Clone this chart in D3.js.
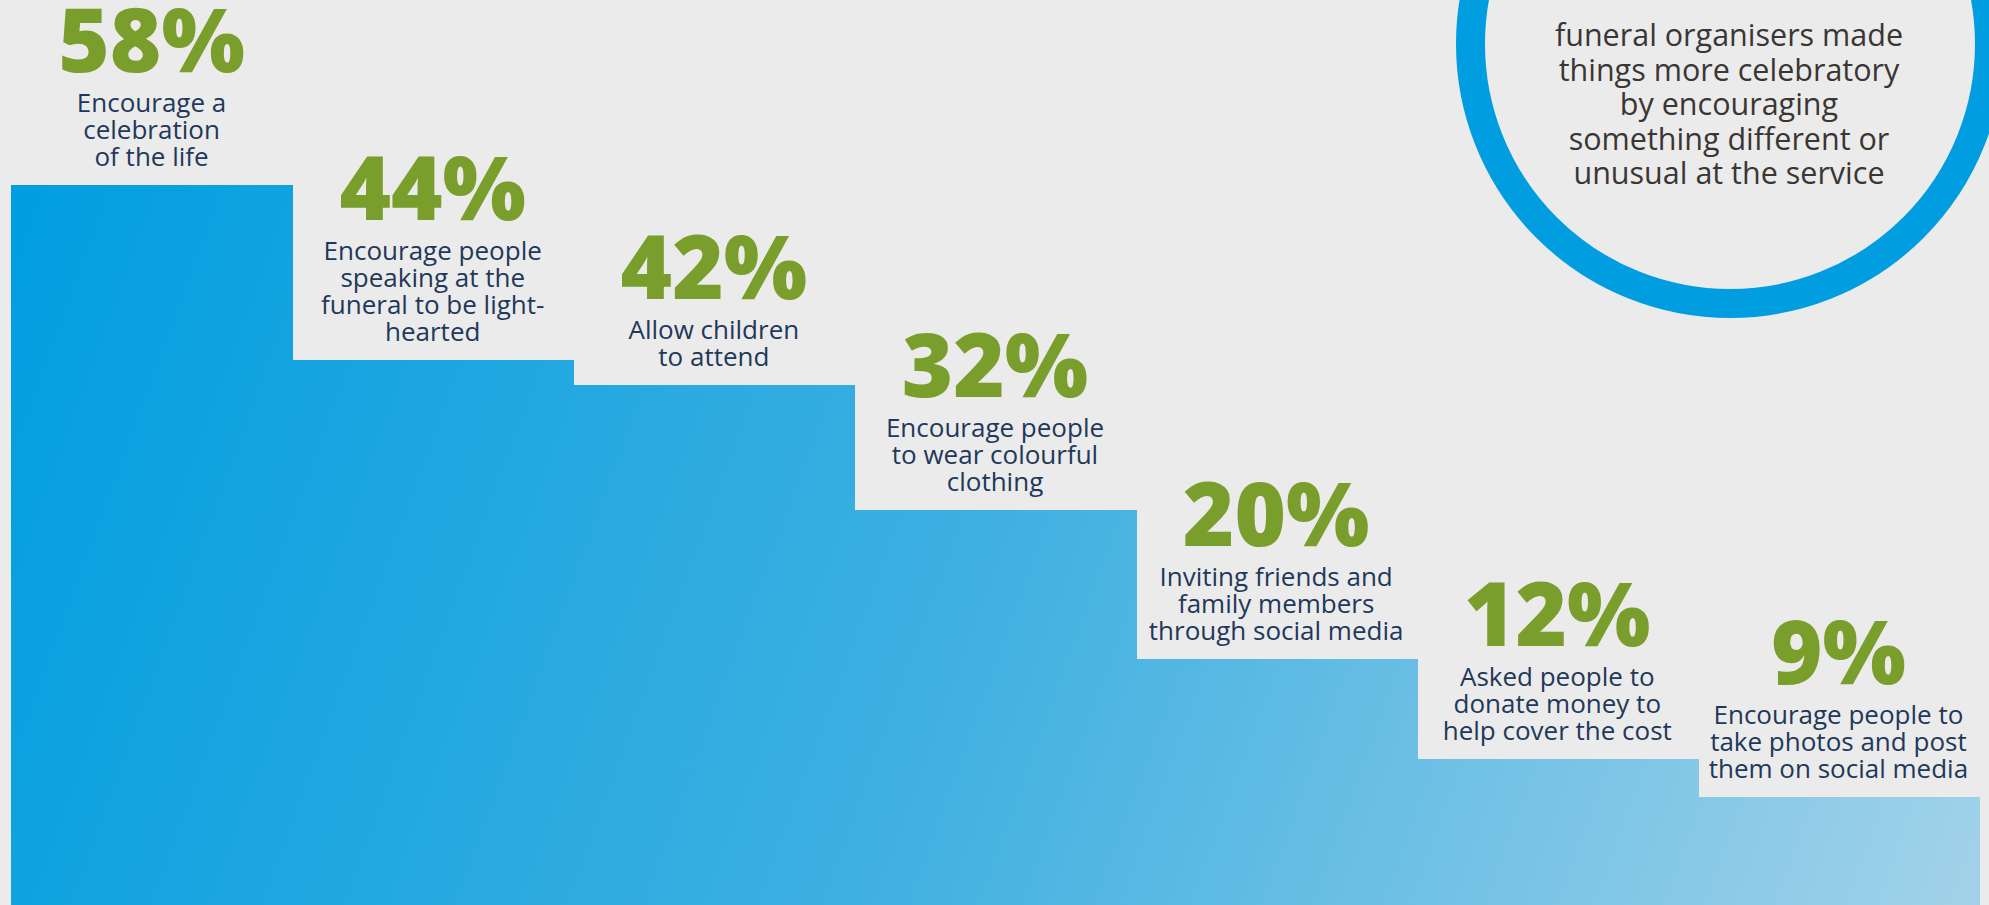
<!DOCTYPE html>
<html>
<head>
<meta charset="utf-8">
<script src="https://cdn.jsdelivr.net/npm/d3@7"></script>
<style>
  html, body { margin: 0; padding: 0; background: #ebebeb; overflow: hidden; }
  svg { display: block; }
</style>
</head>
<body>
<svg id="chart" width="1989" height="905"></svg>
<script>
// ---- data ----
const values = [58, 44, 42, 32, 20, 12, 9];
const valueLabels = ["58%", "44%", "42%", "32%", "20%", "12%", "9%"];
const categories = [
  ["Encourage a", "celebration", "of the life"],
  ["Encourage people", "speaking at the", "funeral to be light-", "hearted"],
  ["Allow children", "to attend"],
  ["Encourage people", "to wear colourful", "clothing"],
  ["Inviting friends and", "family members", "through social media"],
  ["Asked people to", "donate money to", "help cover the cost"],
  ["Encourage people to", "take photos and post", "them on social media"]
];
const calloutLines = [
  "funeral organisers made",
  "things more celebratory",
  "by encouraging",
  "something different or",
  "unusual at the service"
];

// ---- layout ----
const W = 1989, H = 905;
const svg = d3.select("#chart");

const x = d3.scaleBand().domain(d3.range(values.length)).range([11, 1979]).padding(0);
const y = d3.scaleLinear().domain([0, 58]).range([909, 185]);

svg.append("rect").attr("width", W).attr("height", H).attr("fill", "#ebebeb");

const defs = svg.append("defs");
const grad = defs.append("linearGradient")
  .attr("id", "barGrad")
  .attr("gradientUnits", "userSpaceOnUse")
  .attr("x1", 11).attr("y1", 185)
  .attr("x2", 1979).attr("y2", 905);
grad.append("stop").attr("offset", "0%").attr("stop-color", "#009ee0");
grad.append("stop").attr("offset", "50%").attr("stop-color", "#3fb0e1");
grad.append("stop").attr("offset", "100%").attr("stop-color", "#a2d2e9");

// bars
svg.append("g").attr("shape-rendering", "crispEdges").selectAll("rect")
  .data(values)
  .join("rect")
  .attr("x", (d, i) => Math.round(x(i)))
  .attr("y", d => Math.round(y(d)))
  .attr("width", (d, i) => Math.round(x(i) + x.bandwidth()) - Math.round(x(i)) + 1)
  .attr("height", d => H - Math.round(y(d)))
  .attr("fill", "url(#barGrad)");

// labels
const lineH = 27;
const labelG = svg.append("g");
values.forEach((v, i) => {
  const cx = x(i) + x.bandwidth() / 2;
  const lines = categories[i];
  const lastBase = y(v) - 19;
  const firstBase = lastBase - (lines.length - 1) * lineH;
  const t = labelG.append("text")
    .attr("text-anchor", "middle")
    .attr("font-family", "'Open Sans', sans-serif")
    .attr("font-size", 26)
    .attr("fill", "#22385a");
  lines.forEach((ln, k) => {
    t.append("tspan").attr("x", cx).attr("y", firstBase + k * lineH).text(ln);
  });
  labelG.append("text")
    .attr("x", cx)
    .attr("y", firstBase - 40)
    .attr("text-anchor", "middle")
    .attr("font-family", "'Open Sans', sans-serif")
    .attr("font-weight", 800)
    .attr("font-size", 88)
    .attr("fill", "#7a9e2b")
    .text(valueLabels[i]);
});

// callout circle
const cG = svg.append("g");
cG.append("circle")
  .attr("cx", 1730).attr("cy", 44).attr("r", 259.5)
  .attr("fill", "none")
  .attr("stroke", "#009ee0")
  .attr("stroke-width", 29);
const ct = cG.append("text")
  .attr("text-anchor", "middle")
  .attr("font-family", "'Open Sans', sans-serif")
  .attr("font-size", 30.5)
  .attr("fill", "#3a3634");
calloutLines.forEach((ln, k) => {
  ct.append("tspan").attr("x", 1729).attr("y", 46 + k * 34.5).text(ln);
});
</script>
</body>
</html>
